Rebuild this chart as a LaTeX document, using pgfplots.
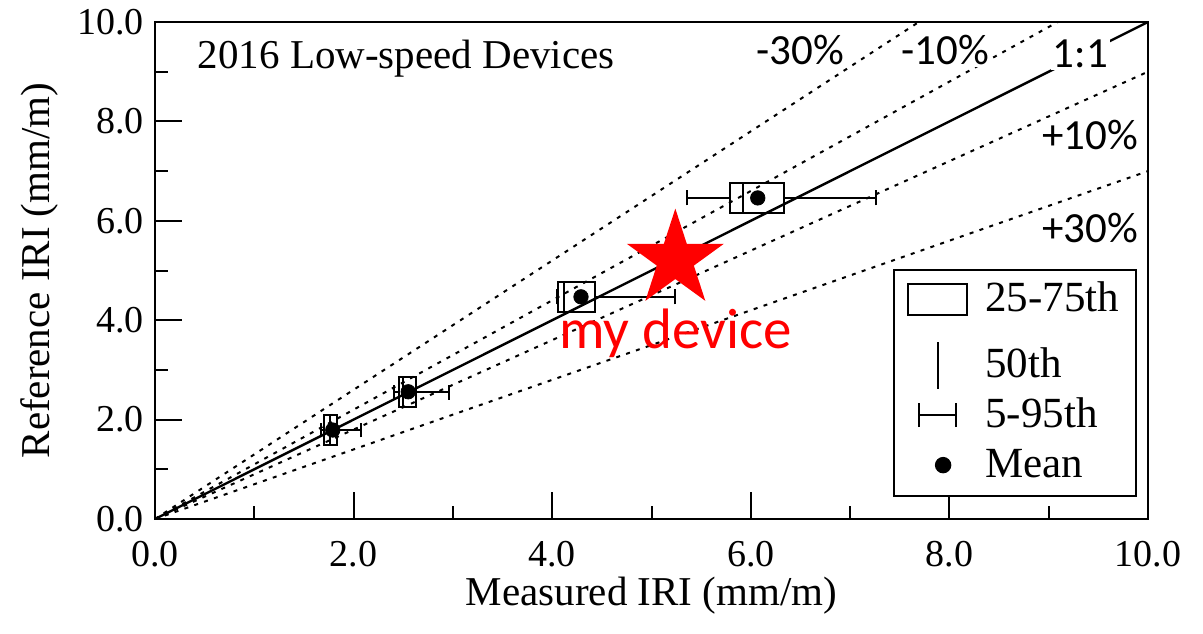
\documentclass[border=0pt]{standalone}
\usepackage{fontspec}
\setmainfont{Liberation Serif}
\newfontfamily\carlito{Carlito}
\usepackage{pgfplots}
\pgfplotsset{compat=1.18}
\usepgfplotslibrary{statistics}

\pgfdeclareplotmark{fstar}{%
  \pgfpathmoveto{\pgfpointpolar{90}{\pgfplotmarksize}}%
  \pgfpathlineto{\pgfpointpolar{126}{0.382\pgfplotmarksize}}%
  \pgfpathlineto{\pgfpointpolar{162}{\pgfplotmarksize}}%
  \pgfpathlineto{\pgfpointpolar{198}{0.382\pgfplotmarksize}}%
  \pgfpathlineto{\pgfpointpolar{234}{\pgfplotmarksize}}%
  \pgfpathlineto{\pgfpointpolar{270}{0.382\pgfplotmarksize}}%
  \pgfpathlineto{\pgfpointpolar{306}{\pgfplotmarksize}}%
  \pgfpathlineto{\pgfpointpolar{342}{0.382\pgfplotmarksize}}%
  \pgfpathlineto{\pgfpointpolar{18}{\pgfplotmarksize}}%
  \pgfpathlineto{\pgfpointpolar{54}{0.382\pgfplotmarksize}}%
  \pgfpathclose
  \pgfusepathqfill
}

\begin{document}
\begin{tikzpicture}
\begin{axis}[
  at={(0pt,0pt)}, anchor=south west,
  scale only axis, width=496.5pt, height=248.5pt,
  xmin=0, xmax=10, ymin=0, ymax=10,
  xtick={0,2,...,10}, ytick={0,2,...,10},
  minor x tick num=1, minor y tick num=1,
  tick pos=left, tick align=inside,
  major tick length=13.5pt, minor tick length=6.5pt,
  every tick/.style={black, line width=1pt},
  axis line style={line width=1pt},
  tick label style={font=\fontsize{19}{22}\selectfont},
  xticklabel style={yshift=-7.5pt},
  yticklabel style={xshift=-2.2pt},
  /pgf/number format/.cd, fixed, fixed zerofill, precision=1, assume math mode=true,
  /pgfplots/.cd,
  xlabel={Measured IRI (mm/m)},
  ylabel={Reference IRI (mm/m)},
  label style={font=\fontsize{20.5}{24}\selectfont},
  xlabel style={at={([yshift=-43pt]axis description cs:0.5,0)}, anchor=base},
  ylabel style={at={([xshift=-52.5pt]axis description cs:0,0.5)}, anchor=base, rotate=0},
  legend style={at={(0.989,0.044)}, anchor=south east, draw=black, line width=1pt,
    fill=white, font=\fontsize{21.5}{25}\selectfont, inner xsep=6.5pt, inner ysep=0.7pt,
    row sep=0pt, cells={anchor=west, text height=14pt, text depth=4pt, inner ysep=0pt, inner xsep=3.9pt},
    /tikz/every odd column/.append style={column sep=6.6pt}},
  legend cell align=left,
]
% reference lines
\addplot[black, line width=1pt, dash pattern=on 2pt off 3.2pt, forget plot] coordinates {(0,0) (7.692,10)};
\addplot[black, line width=1pt, dash pattern=on 2pt off 3.2pt, forget plot] coordinates {(0,0) (9.091,10)};
\addplot[black, line width=1pt, dash pattern=on 2pt off 3.2pt, forget plot] coordinates {(0,0) (10,9)};
\addplot[black, line width=1pt, dash pattern=on 2pt off 3.2pt, forget plot] coordinates {(0,0) (10,7)};
\addplot[black, line width=1.2pt, forget plot] coordinates {(0,0) (10,10)};
% boxes
\addplot[black, solid, line width=1pt, forget plot, boxplot prepared={draw position=1.79,
  lower whisker=1.67, lower quartile=1.70, median=1.76, upper quartile=1.83, upper whisker=2.07,
  box extend=0.6, whisker extend=0.3}] coordinates {};
\addplot[black, solid, line width=1pt, forget plot, boxplot prepared={draw position=2.55,
  lower whisker=2.41, lower quartile=2.46, median=2.50, upper quartile=2.63, upper whisker=2.96,
  box extend=0.6, whisker extend=0.3}] coordinates {};
\addplot[black, solid, line width=1pt, forget plot, boxplot prepared={draw position=4.47,
  lower whisker=4.05, lower quartile=4.06, median=4.12, upper quartile=4.43, upper whisker=5.24,
  box extend=0.6, whisker extend=0.3}] coordinates {};
\addplot[black, solid, line width=1pt, forget plot, boxplot prepared={draw position=6.46,
  lower whisker=5.36, lower quartile=5.79, median=5.92, upper quartile=6.33, upper whisker=7.26,
  box extend=0.6, whisker extend=0.3}] coordinates {};
% means
\addplot[only marks, mark=*, mark size=3.6pt, black, forget plot] coordinates {(1.79,1.79) (2.55,2.56) (4.29,4.47) (6.07,6.46)};
% star
\addplot[only marks, mark=fstar, mark size=25.5pt, color=red, forget plot] coordinates {(5.24,5.22)};
% labels
\node[fill=white, inner sep=1pt, font=\carlito\fontsize{21.5}{25}\selectfont] at (axis cs:6.50,9.44) {-30\%};
\node[fill=white, inner sep=1pt, font=\carlito\fontsize{21.5}{25}\selectfont] at (axis cs:7.96,9.44) {-10\%};
\node[fill=white, inner sep=1pt, font=\carlito\fontsize{21.5}{25}\selectfont] at (axis cs:9.32,9.36) {1:1};
\node[fill=white, inner sep=1pt, font=\carlito\fontsize{21.5}{25}\selectfont] at (axis cs:9.42,7.73) {+10\%};
\node[fill=white, inner sep=1pt, font=\carlito\fontsize{21.5}{25}\selectfont] at (axis cs:9.42,5.86) {+30\%};
\node[anchor=base west, font=\fontsize{20.5}{24}\selectfont] at (axis cs:0.36,9.07) {2016 Low-speed Devices};
\node[anchor=base, text=red, font=\carlito\fontsize{28.5}{34}\selectfont] at (axis cs:5.24,3.44) {my device};
% legend
\addlegendimage{legend image code/.code={\path[draw=none,fill=none] (0pt,-16.5pt) rectangle (29.5pt,13.8pt);
  \draw[black, line width=1pt] (0pt,-7.75pt) rectangle (29.5pt,7.75pt);}}
\addlegendentry{25-75th}
\addlegendimage{legend image code/.code={\path[draw=none,fill=none] (0pt,-12.5pt) rectangle (29.5pt,16.5pt);
  \draw[black, line width=1pt] (14.75pt,-11.75pt) -- (14.75pt,11.75pt);}}
\addlegendentry{50th}
\addlegendimage{legend image code/.code={\path[draw=none,fill=none] (0pt,-12.5pt) rectangle (29.5pt,12.5pt);
  \draw[black, line width=1pt] (5.5pt,0pt) -- (24pt,0pt);
  \draw[black, line width=1pt] (5.5pt,-6pt) -- (5.5pt,6pt);
  \draw[black, line width=1pt] (24pt,-6pt) -- (24pt,6pt);}}
\addlegendentry{5-95th}
\addlegendimage{legend image code/.code={\path[draw=none,fill=none] (0pt,-14.8pt) rectangle (29.5pt,12.5pt);
  \fill[black] (17.5pt,0pt) circle (3.6pt);}}
\addlegendentry{Mean}
\end{axis}
\pgfresetboundingbox
\path[use as bounding box] (-77.5pt,-57pt) rectangle (524pt,259.5pt);
\end{tikzpicture}
\end{document}
